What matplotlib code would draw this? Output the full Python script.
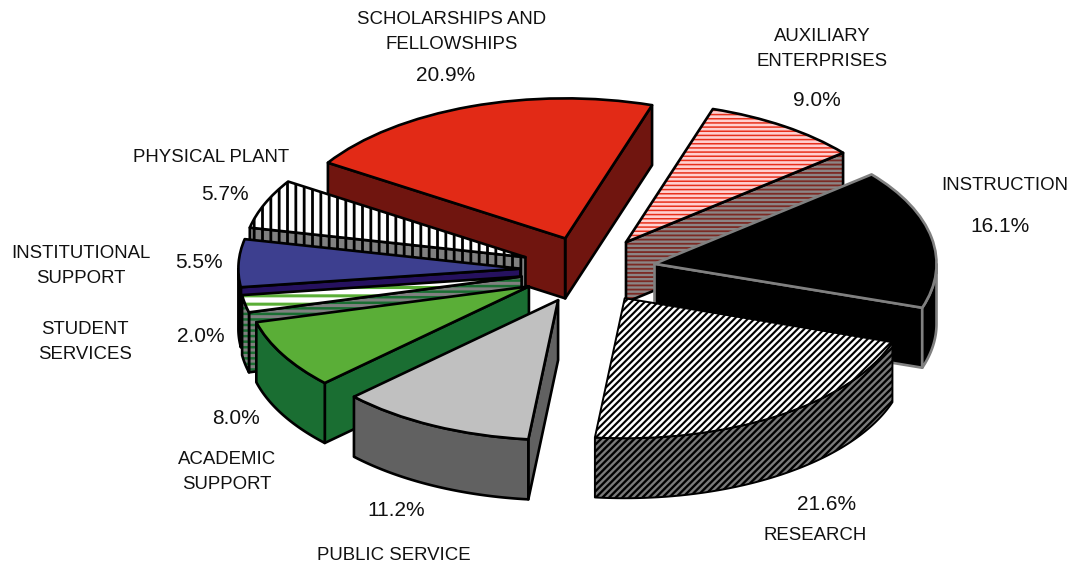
import numpy as np
import matplotlib
matplotlib.use("Agg")
import matplotlib.pyplot as plt
from matplotlib.patches import Polygon, Wedge

plt.rcParams['font.family'] = ['Liberation Sans', 'DejaVu Sans']

# ---- data ----
categories = ["SCHOLARSHIPS AND\nFELLOWSHIPS", "AUXILIARY\nENTERPRISES", "INSTRUCTION",
              "RESEARCH", "PUBLIC SERVICE", "ACADEMIC\nSUPPORT", "STUDENT\nSERVICES",
              "INSTITUTIONAL\nSUPPORT", "PHYSICAL PLANT"]
values = [20.9, 9.0, 16.1, 21.6, 11.2, 8.0, 2.0, 5.5, 5.7]

# ---- styles (one entry per slice) ----
W, H = 1070, 565
CX, CY, RX, RY = 588, 270, 282, 140
DEPTH = 60 / RY
EXPLODE = 0.24
START = 147.3
paint_order = [0, 1, 8, 2, 7, 6, 5, 4, 3]
top_fill = ['#e22a16', '#ffd0d0', '#000000', '#ffffff', '#c0c0c0', '#5aae37', '#ffffff', '#3d3f8f', '#ffffff']
top_hatch = [None, '----', None, '/////', None, None, '--', None, '||']
top_hcol = [None, '#e8301c', None, '#000000', None, None, '#5aae37', None, '#000000']
top_hlw = [0, 1.1, 0, 1.55, 0, 0, 2.2, 0, 2.0]
side_fill = ['#70150f', '#8c8585', '#000000', '#7a7a7a', '#616161', '#1a6e32', '#808080', '#26115f', '#808080']
side_hatch = [None, '----', None, '/////', None, None, '---', None, '||']
side_hcol = [None, '#7c2a24', None, '#000000', None, None, '#1a6e32', None, '#000000']
side_hlw = [0, 1.3, 0, 1.7, 0, 0, 1.8, 0, 2.0]
edge_col = ['k', 'k', '#808080', 'k', 'k', 'k', 'k', 'k', 'k']
edge_lw = [1.9, 1.9, 1.9, 1.4, 1.9, 1.9, 1.9, 1.9, 1.9]

# label layout, pixel centres
name_pos = [(452, 32), (822, 49), (1005, 186), (815, 535), (394, 556),
            (227, 472), (85, 342), (81, 266), (211, 157)]
pct_pos = [(446, 76), (817, 100), (1000, 226), (827, 504), (396, 511),
           (236, 418), (201, 337), (199, 262), (225, 195)]


def hatch_width(patch, lw):
    if hasattr(patch, 'set_hatch_linewidth'):
        patch.set_hatch_linewidth(lw)
    else:
        patch._hatch_linewidth = lw


fig = plt.figure(figsize=(W / 100, H / 100), dpi=100)
ax = fig.add_axes([0, 0, 1, 1])
wedges, _ = ax.pie(values, explode=[EXPLODE] * len(values), startangle=START,
                   counterclock=False, radius=1)
ax.set_aspect('auto')
ax.set_xlim(-CX / RX, (W - CX) / RX)
ax.set_ylim((CY - H) / RY, CY / RY)
ax.axis('off')


def face(pts, i, z):
    if side_hatch[i]:
        p = Polygon(pts, closed=True, fc=side_fill[i], ec=side_hcol[i], lw=0,
                    hatch=side_hatch[i], zorder=z)
        hatch_width(p, side_hlw[i])
    else:
        p = Polygon(pts, closed=True, fc=side_fill[i], lw=0, zorder=z)
    ax.add_patch(p)
    ax.add_patch(Polygon(pts, closed=True, fill=False, ec=edge_col[i], lw=edge_lw[i],
                         joinstyle='round', zorder=z + 0.01))


for rank, i in enumerate(paint_order):
    w = wedges[i]
    cx, cy = w.center
    t1, t2 = w.theta1, w.theta2
    shift = np.array([0, -DEPTH])
    apex = np.array([cx, cy])

    def rim(a):
        a = np.radians(a)
        return np.column_stack([cx + np.cos(a), cy + np.sin(a)])

    z = 10 + rank * 1.0
    for t, visible in ((t1, np.cos(np.radians(t1)) > 0), (t2, np.cos(np.radians(t2)) < 0)):
        if visible:
            r = rim(np.array([t]))[0]
            face([apex, r, r + shift, apex + shift], i, z)
    angles = np.linspace(t1, t2, 300)
    angles = angles[np.sin(np.radians(angles)) < 0]
    if len(angles) > 1:
        top = rim(angles)
        face(np.vstack([top, (top + shift)[::-1]]), i, z + 0.1)
    w.set_zorder(z + 0.5)
    w.set_facecolor(top_fill[i])
    w.set_linewidth(0)
    if top_hatch[i]:
        w.set_edgecolor(top_hcol[i])
        w.set_hatch(top_hatch[i])
        hatch_width(w, top_hlw[i])
    ax.add_patch(Wedge(w.center, w.r, t1, t2, fill=False, ec=edge_col[i], lw=edge_lw[i],
                       joinstyle='round', zorder=z + 0.6))

# labels
for name, val, (nx, ny), (px, py) in zip(categories, values, name_pos, pct_pos):
    fig.text(nx / W, 1 - ny / H, name, ha='center', va='center', fontsize=13.4,
             linespacing=1.55, color='#111111')
    fig.text(px / W, 1 - py / H, f"{val:.1f}%", ha='center', va='center', fontsize=15,
             color='#111111')

fig.savefig("out.png", dpi=100)
